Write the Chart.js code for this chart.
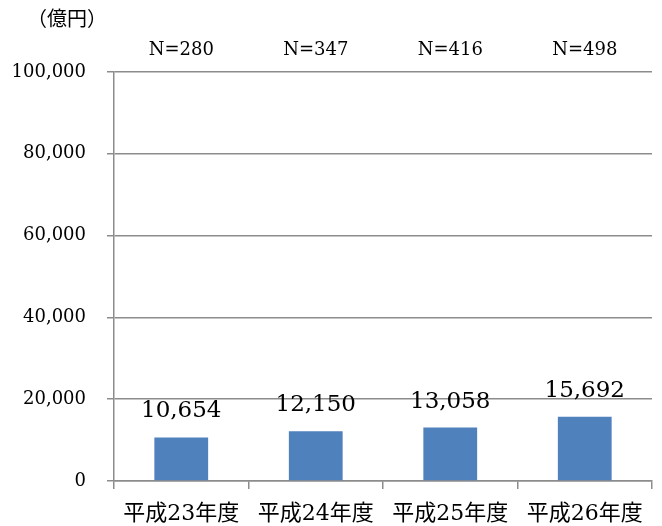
<!DOCTYPE html>
<html>
<head>
<meta charset="utf-8">
<script src="https://cdn.jsdelivr.net/npm/chart.js@4"></script>
<style>
  html, body { margin: 0; padding: 0; background: #fff; }
  #wrap { width: 662px; height: 526px; }
</style>
</head>
<body>
<div id="wrap"><canvas id="chart" width="662" height="526"></canvas></div>
<script>
const categories = ["平成23年度", "平成24年度", "平成25年度", "平成26年度"];
const amounts = [10654, 12150, 13058, 15692];
const counts = ["N=280", "N=347", "N=416", "N=498"];
const unitLabel = "（億円）";

const serif = "'DejaVu Serif', 'Noto Sans CJK JP', serif";
const gridColor = "#8c8c8c";

// draws the value labels over the bars, the N= row and the unit
const labelsPlugin = {
  id: "labels",
  afterDatasetsDraw(chart) {
    const ctx = chart.ctx;
    const x = chart.scales.x;
    const y = chart.scales.y;
    ctx.save();
    ctx.fillStyle = "#000";
    ctx.textAlign = "center";
    ctx.textBaseline = "middle";
    ctx.font = "23px " + serif;
    amounts.forEach((v, i) => {
      const s = v.toLocaleString("en-US");
      ctx.fillText(s, x.getPixelForValue(i), y.getPixelForValue(v) - 26);
    });
    ctx.font = "18px " + serif;
    counts.forEach((c, i) => {
      ctx.fillText(c, x.getPixelForValue(i), 50);
    });
    ctx.textAlign = "left";
    ctx.font = "20px 'Noto Sans CJK JP'";
    ctx.fillText(unitLabel, 27, 18);
    ctx.restore();
  },
};

const chart = new Chart(document.querySelector("#chart"), {
  type: "bar",
  data: {
    labels: categories,
    datasets: [
      {
        data: amounts,
        backgroundColor: "#4f81bd",
        borderWidth: 0,
        barPercentage: 0.4,
        categoryPercentage: 1,
      },
    ],
  },
  options: {
    responsive: false,
    animation: false,
    devicePixelRatio: 1,
    layout: { padding: { top: 72, right: 10, left: 0, bottom: 0 } },
    plugins: {
      legend: { display: false },
      tooltip: { enabled: false },
    },
    scales: {
      x: {
        afterFit: (s) => { s.height = 45; },
        grid: {
          offset: true,
          drawOnChartArea: false,
          color: gridColor,
          tickLength: 8,
          lineWidth: 1.5,
        },
        border: { color: gridColor, width: 1.5 },
        ticks: {
          color: "#000",
          font: { family: serif, size: 22 },
          padding: 12,
          maxRotation: 0,
        },
      },
      y: {
        min: 0,
        max: 100000,
        afterFit: (s) => { s.width = 114; },
        grid: { color: gridColor, tickLength: 7, lineWidth: 1.5 },
        border: { color: gridColor, width: 1.5 },
        ticks: {
          stepSize: 20000,
          color: "#000",
          font: { family: serif, size: 18 },
          padding: 21,
          callback: (v) => v.toLocaleString("en-US"),
        },
      },
    },
  },
  plugins: [labelsPlugin],
});
</script>
</body>
</html>
